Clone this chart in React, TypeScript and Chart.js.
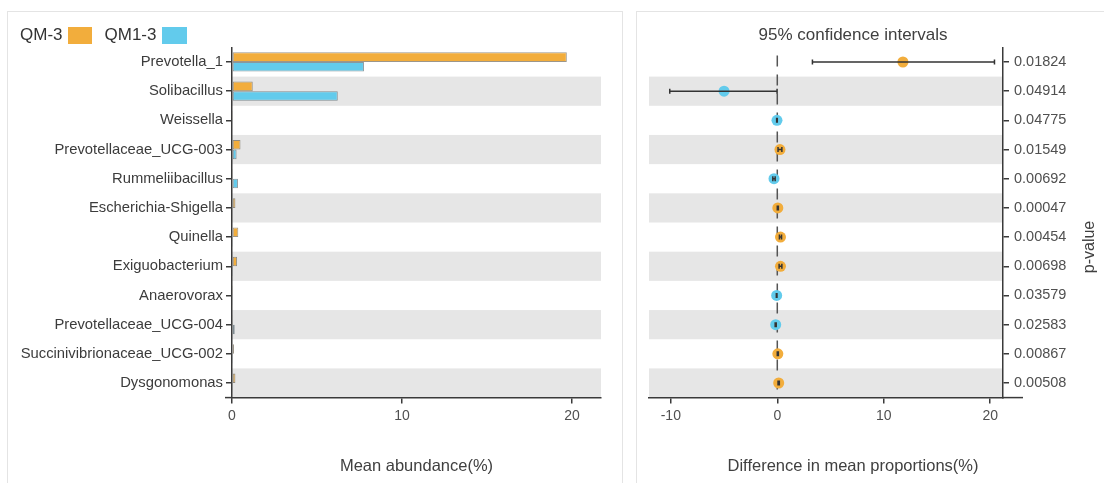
import React, { useEffect, useRef } from 'react';
import { Chart, registerables } from 'chart.js';

Chart.register(...registerables);

// ---------------- data ----------------
const genera = [
  'Prevotella_1',
  'Solibacillus',
  'Weissella',
  'Prevotellaceae_UCG-003',
  'Rummeliibacillus',
  'Escherichia-Shigella',
  'Quinella',
  'Exiguobacterium',
  'Anaerovorax',
  'Prevotellaceae_UCG-004',
  'Succinivibrionaceae_UCG-002',
  'Dysgonomonas',
];
const groupNames = ['QM-3', 'QM1-3'];
const qm3Abundance = [19.69, 1.22, 0.02, 0.5, 0.02, 0.2, 0.37, 0.3, 0.02, 0.03, 0.12, 0.2];
const qm13Abundance = [7.76, 6.22, 0.05, 0.27, 0.35, 0.05, 0.02, 0.02, 0.03, 0.16, 0.02, 0.03];
const meanDifference = [11.8, -5.0, -0.03, 0.25, -0.31, 0.05, 0.3, 0.3, -0.06, -0.15, 0.05, 0.13];
const ciLower = [3.3, -10.1, -0.06, 0.07, -0.42, 0.0, 0.2, 0.17, -0.09, -0.2, 0.0, 0.07];
const ciUpper = [20.4, -0.02, 0.0, 0.43, -0.2, 0.1, 0.4, 0.43, -0.03, -0.1, 0.1, 0.19];
const pValueLabels = [
  '0.01824', '0.04914', '0.04775', '0.01549', '0.00692', '0.00047',
  '0.00454', '0.00698', '0.03579', '0.02583', '0.00867', '0.00508',
];
const abundanceRange = [0, 21.7];
const differenceRange = [-12.05, 21.2];
const tickStep = 10;
const leftAxisTitle = 'Mean abundance(%)';
const rightAxisTitle = 'Difference in mean proportions(%)';
const ciTitle = '95% confidence intervals';
const pValueTitle = 'p-value';

// ---------------- style ----------------
const FONT = '"Liberation Sans", Arial, Helvetica, sans-serif';
const ORANGE = '#F2AD3C';
const BLUE = '#62CBEC';
const BAND = '#E6E6E6';
const AXIS = '#3a3a3a';
const LABEL = '#3c3c3c';
const TICKTXT = '#505050';

Chart.defaults.font.family = FONT;

const rowBands = {
  id: 'rowBands',
  beforeDraw(chart: any) {
    const { ctx, chartArea } = chart;
    const y = chart.scales.y;
    const n = genera.length;
    const half = Math.abs(y.getPixelForValue(1) - y.getPixelForValue(0)) / 2;
    ctx.save();
    ctx.fillStyle = BAND;
    for (let i = 1; i < n; i += 2) {
      const c = y.getPixelForValue(i);
      ctx.fillRect(chartArea.left, c - half, chartArea.right - chartArea.left, half * 2);
    }
    const opts = chart.options.plugins.rowBands || {};
    if (opts.zeroLine) {
      const x0 = chart.scales.x.getPixelForValue(0);
      ctx.strokeStyle = '#555';
      ctx.lineWidth = 1.5;
      ctx.setLineDash([11, 8]);
      ctx.lineDashOffset = 11;
      ctx.beginPath();
      ctx.moveTo(x0, chartArea.top);
      ctx.lineTo(x0, chartArea.bottom);
      ctx.stroke();
    }
    ctx.restore();
  },
  afterDraw(chart: any) {
    // small overhang of the bottom axis line, as in the original figure
    const { ctx, chartArea } = chart;
    const opts = chart.options.plugins.rowBands || {};
    ctx.save();
    ctx.strokeStyle = AXIS;
    ctx.lineWidth = 1.5;
    ctx.beginPath();
    if (opts.extendRight) {
      ctx.moveTo(chartArea.right, chartArea.bottom);
      ctx.lineTo(chartArea.right + opts.extendRight, chartArea.bottom);
    }
    if (opts.extendLeft) {
      ctx.moveTo(chartArea.left - opts.extendLeft, chartArea.bottom);
      ctx.lineTo(chartArea.left, chartArea.bottom);
    }
    ctx.stroke();
    ctx.restore();
  },
};

const errorBars = {
  id: 'errorBars',
  afterDatasetsDraw(chart: any) {
    const { ctx } = chart;
    const x = chart.scales.x;
    const y = chart.scales.y;
    ctx.save();
    ctx.strokeStyle = '#333';
    ctx.lineWidth = 1.5;
    for (let i = 0; i < genera.length; i++) {
      const cy = y.getPixelForValue(i);
      const x1 = x.getPixelForValue(ciLower[i]);
      const x2 = x.getPixelForValue(ciUpper[i]);
      ctx.beginPath();
      ctx.moveTo(x1, cy);
      ctx.lineTo(x2, cy);
      ctx.moveTo(x1, cy - 2.5);
      ctx.lineTo(x1, cy + 2.5);
      ctx.moveTo(x2, cy - 2.5);
      ctx.lineTo(x2, cy + 2.5);
      ctx.stroke();
    }
    ctx.restore();
  },
};

const rightTexts = {
  id: 'rightTexts',
  afterDraw(chart: any) {
    const { ctx } = chart;
    ctx.save();
    ctx.fillStyle = '#404040';
    ctx.textAlign = 'center';
    ctx.textBaseline = 'middle';
    ctx.font = `17px ${FONT}`;
    ctx.fillText(ciTitle, 223, 35);
    ctx.font = `16.5px ${FONT}`;
    ctx.fillText(rightAxisTitle, 223, 466);
    ctx.translate(460, 247);
    ctx.rotate(-Math.PI / 2);
    ctx.font = `16px ${FONT}`;
    ctx.fillText(pValueTitle, 0, 0);
    ctx.restore();
  },
};

export default function App() {
  const leftRef = useRef<HTMLCanvasElement>(null);
  const rightRef = useRef<HTMLCanvasElement>(null);

  useEffect(() => {
    const left = new Chart(leftRef.current as HTMLCanvasElement, {
      type: 'bar',
      data: {
        labels: genera,
        datasets: [
          {
            label: groupNames[0],
            data: qm3Abundance,
            backgroundColor: ORANGE,
            borderColor: 'rgba(90,80,60,0.6)',
            borderWidth: 1,
            borderSkipped: false,
            categoryPercentage: 0.66,
            barPercentage: 1,
          },
          {
            label: groupNames[1],
            data: qm13Abundance,
            backgroundColor: BLUE,
            borderColor: 'rgba(60,80,90,0.6)',
            borderWidth: 1,
            borderSkipped: false,
            categoryPercentage: 0.66,
            barPercentage: 1,
          },
        ],
      },
      options: {
        indexAxis: 'y',
        responsive: false,
        animation: false,
        layout: { padding: { top: 47.4, right: 24, left: 0, bottom: 0 } },
        plugins: {
          legend: { display: false },
          tooltip: { enabled: false },
          rowBands: { extendLeft: 7 },
        },
        scales: {
          x: {
            min: abundanceRange[0],
            max: abundanceRange[1],
            ticks: { stepSize: tickStep, includeBounds: false, color: TICKTXT, font: { size: 14 }, padding: 4 },
            grid: { drawOnChartArea: false, tickLength: 6, color: AXIS, lineWidth: 1.5 },
            border: { color: AXIS, width: 1.5 },
            title: {
              display: true,
              text: leftAxisTitle,
              color: '#404040',
              font: { size: 16.5 },
              padding: { top: 0, bottom: 7 },
            },
            afterFit: (s: any) => {
              s.height = 85.4;
            },
          },
          y: {
            offset: true,
            ticks: { color: LABEL, font: { size: 14.8 }, padding: 3 },
            grid: { drawOnChartArea: false, tickLength: 6, color: AXIS, lineWidth: 1.5, offset: false },
            border: { color: AXIS, width: 1.5 },
            afterFit: (s: any) => {
              s.width = 232;
            },
          },
        },
      } as any,
      plugins: [rowBands],
    });

    const right = new Chart(rightRef.current as HTMLCanvasElement, {
      type: 'scatter',
      data: {
        labels: genera,
        datasets: [
          {
            label: 'difference',
            data: genera.map((g, i) => ({ x: meanDifference[i], y: g })) as any,
            backgroundColor: meanDifference.map((d) => (d >= 0 ? ORANGE : BLUE)),
            borderWidth: 0,
            pointRadius: 5.5,
          },
        ],
      },
      options: {
        responsive: false,
        animation: false,
        layout: { padding: { top: 47.4, right: 0, left: 19, bottom: 0 } },
        plugins: {
          legend: { display: false },
          tooltip: { enabled: false },
          rowBands: { zeroLine: true, extendRight: 20 },
        },
        scales: {
          x: {
            type: 'linear',
            min: differenceRange[0],
            max: differenceRange[1],
            ticks: { stepSize: tickStep, includeBounds: false, color: TICKTXT, font: { size: 14 }, padding: 4 },
            grid: { drawOnChartArea: false, tickLength: 6, color: AXIS, lineWidth: 1.5 },
            border: { color: AXIS, width: 1.5 },
            afterFit: (s: any) => {
              s.height = 85.4;
            },
          },
          y: {
            type: 'category',
            labels: genera,
            position: 'right',
            offset: true,
            ticks: {
              color: TICKTXT,
              font: { size: 14.5 },
              padding: 5,
              callback: (_v: any, i: number) => pValueLabels[i],
            },
            grid: { drawOnChartArea: false, tickLength: 6, color: AXIS, lineWidth: 1.5, offset: false },
            border: { color: AXIS, width: 1.5 },
            afterFit: (s: any) => {
              s.width = 101;
            },
          },
        },
      } as any,
      plugins: [rowBands, errorBars, rightTexts],
    });

    return () => {
      left.destroy();
      right.destroy();
    };
  }, []);

  const panel = (l: number, w: number): React.CSSProperties => ({
    position: 'absolute',
    left: l,
    top: 11,
    width: w,
    height: 520,
    border: '1.5px solid #e4e4e4',
    boxSizing: 'border-box',
  });

  return (
    <div
      style={{
        position: 'fixed',
        left: 0,
        top: 0,
        width: 1104,
        height: 483,
        overflow: 'hidden',
        background: '#fff',
        fontFamily: FONT,
      }}
    >
      <div style={panel(7, 616)} />
      <div style={panel(636, 500)} />
      <canvas
        ref={leftRef}
        width={625}
        height={483}
        style={{ position: 'absolute', left: 0, top: 0, width: 625, height: 483 }}
      />
      <canvas
        ref={rightRef}
        width={474}
        height={483}
        style={{ position: 'absolute', left: 630, top: 0, width: 474, height: 483 }}
      />
      <div
        style={{
          position: 'absolute',
          left: 20,
          top: 25,
          height: 20,
          display: 'flex',
          alignItems: 'center',
          fontSize: 17,
          color: '#333',
          whiteSpace: 'nowrap',
        }}
      >
        <span>{groupNames[0]}</span>
        <span style={{ display: 'inline-block', width: 24, height: 17, background: ORANGE, marginLeft: 5 }} />
        <span style={{ marginLeft: 13 }}>{groupNames[1]}</span>
        <span style={{ display: 'inline-block', width: 25, height: 17, background: BLUE, marginLeft: 6 }} />
      </div>
    </div>
  );
}
